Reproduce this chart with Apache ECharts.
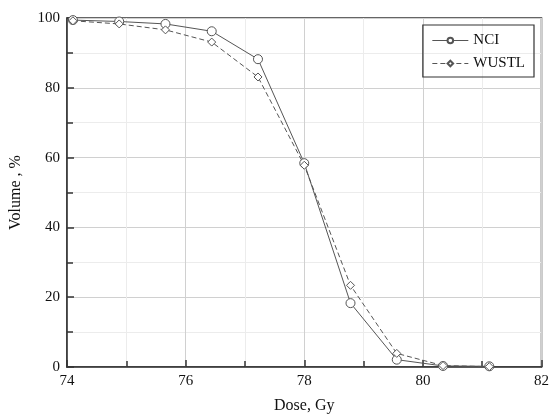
<!DOCTYPE html>
<html>
<head>
<meta charset="utf-8">
<script src="https://cdn.jsdelivr.net/npm/echarts@6/dist/echarts.min.js"></script>
<style>html,body{margin:0;padding:0;background:#fff}#c{width:552px;height:419px}</style>
</head>
<body>
<div id="c"></div>
<script>
var doseValues = [74.1, 74.88, 75.66, 76.44, 77.22, 78.0, 78.78, 79.56, 80.34, 81.12];
var nciValues = [99.4, 99.0, 98.3, 96.2, 88.2, 58.4, 18.3, 2.1, 0.3, 0.2];
var wustlValues = [99.2, 98.3, 96.6, 93.1, 83.1, 57.8, 23.4, 3.9, 0.4, 0.1];
var seriesNames = ['NCI', 'WUSTL'];
var xTitle = 'Dose, Gy';
var yTitle = 'Volume , %';

function pairs(xs, ys) { return xs.map(function (x, i) { return [x, ys[i]]; }); }

var font = '"Liberation Serif", "Times New Roman", serif';
var chart = echarts.init(document.getElementById('c'), null, {renderer: 'canvas'});
chart.setOption({
  animation: false,
  backgroundColor: '#fff',
  grid: {left: 65, right: 10, top: 18, bottom: 45, show: true, borderColor: '#333', borderWidth: 1.5, backgroundColor: 'transparent'},
  legend: {
    right: 18, top: 25, orient: 'vertical',
    borderColor: '#333', borderWidth: 1.2, padding: [8, 9, 6, 9],
    itemWidth: 36, itemHeight: 7, itemGap: 8,
    lineStyle: {width: 1},
    textStyle: {fontFamily: font, fontSize: 15, color: '#111'},
    data: seriesNames
  },
  xAxis: {
    type: 'value', min: 74, max: 82, interval: 2,
    name: xTitle, nameLocation: 'middle', nameGap: 31,
    nameTextStyle: {fontFamily: font, fontSize: 16, color: '#111'},
    axisLine: {lineStyle: {color: '#333', width: 1.5}},
    axisTick: {inside: true, length: 7, lineStyle: {color: '#333', width: 1.5}},
    minorTick: {show: true, splitNumber: 2, length: 6, lineStyle: {color: '#333', width: 1.5}},
    axisLabel: {fontFamily: font, fontSize: 15, color: '#111', margin: 7},
    splitLine: {show: true, lineStyle: {color: '#d0d0d0', width: 1}},
    minorSplitLine: {show: true, lineStyle: {color: '#ececec', width: 1}}
  },
  yAxis: {
    type: 'value', min: 0, max: 100, interval: 20,
    name: yTitle, nameLocation: 'middle', nameGap: 43,
    nameTextStyle: {fontFamily: font, fontSize: 16, color: '#111'},
    axisLine: {show: true, lineStyle: {color: '#333', width: 1.5}},
    axisTick: {show: true, inside: true, length: 7, lineStyle: {color: '#333', width: 1.5}},
    minorTick: {show: true, splitNumber: 2, length: 6, lineStyle: {color: '#333', width: 1.5}},
    axisLabel: {fontFamily: font, fontSize: 15, color: '#111', margin: 7},
    splitLine: {show: true, lineStyle: {color: '#d0d0d0', width: 1}},
    minorSplitLine: {show: true, lineStyle: {color: '#ececec', width: 1}}
  },
  series: [
    {
      name: seriesNames[0], type: 'line', data: pairs(doseValues, nciValues),
      symbol: 'circle', symbolSize: 9, showAllSymbol: true,
      itemStyle: {color: '#fff', borderColor: '#555', borderWidth: 1},
      lineStyle: {color: '#555', width: 1, type: 'solid'}
    },
    {
      name: seriesNames[1], type: 'line', data: pairs(doseValues, wustlValues),
      symbol: 'diamond', symbolSize: 8, showAllSymbol: true,
      itemStyle: {color: '#fff', borderColor: '#555', borderWidth: 1},
      lineStyle: {color: '#555', width: 1, type: [5, 3]}
    }
  ]
});
</script>
</body>
</html>
